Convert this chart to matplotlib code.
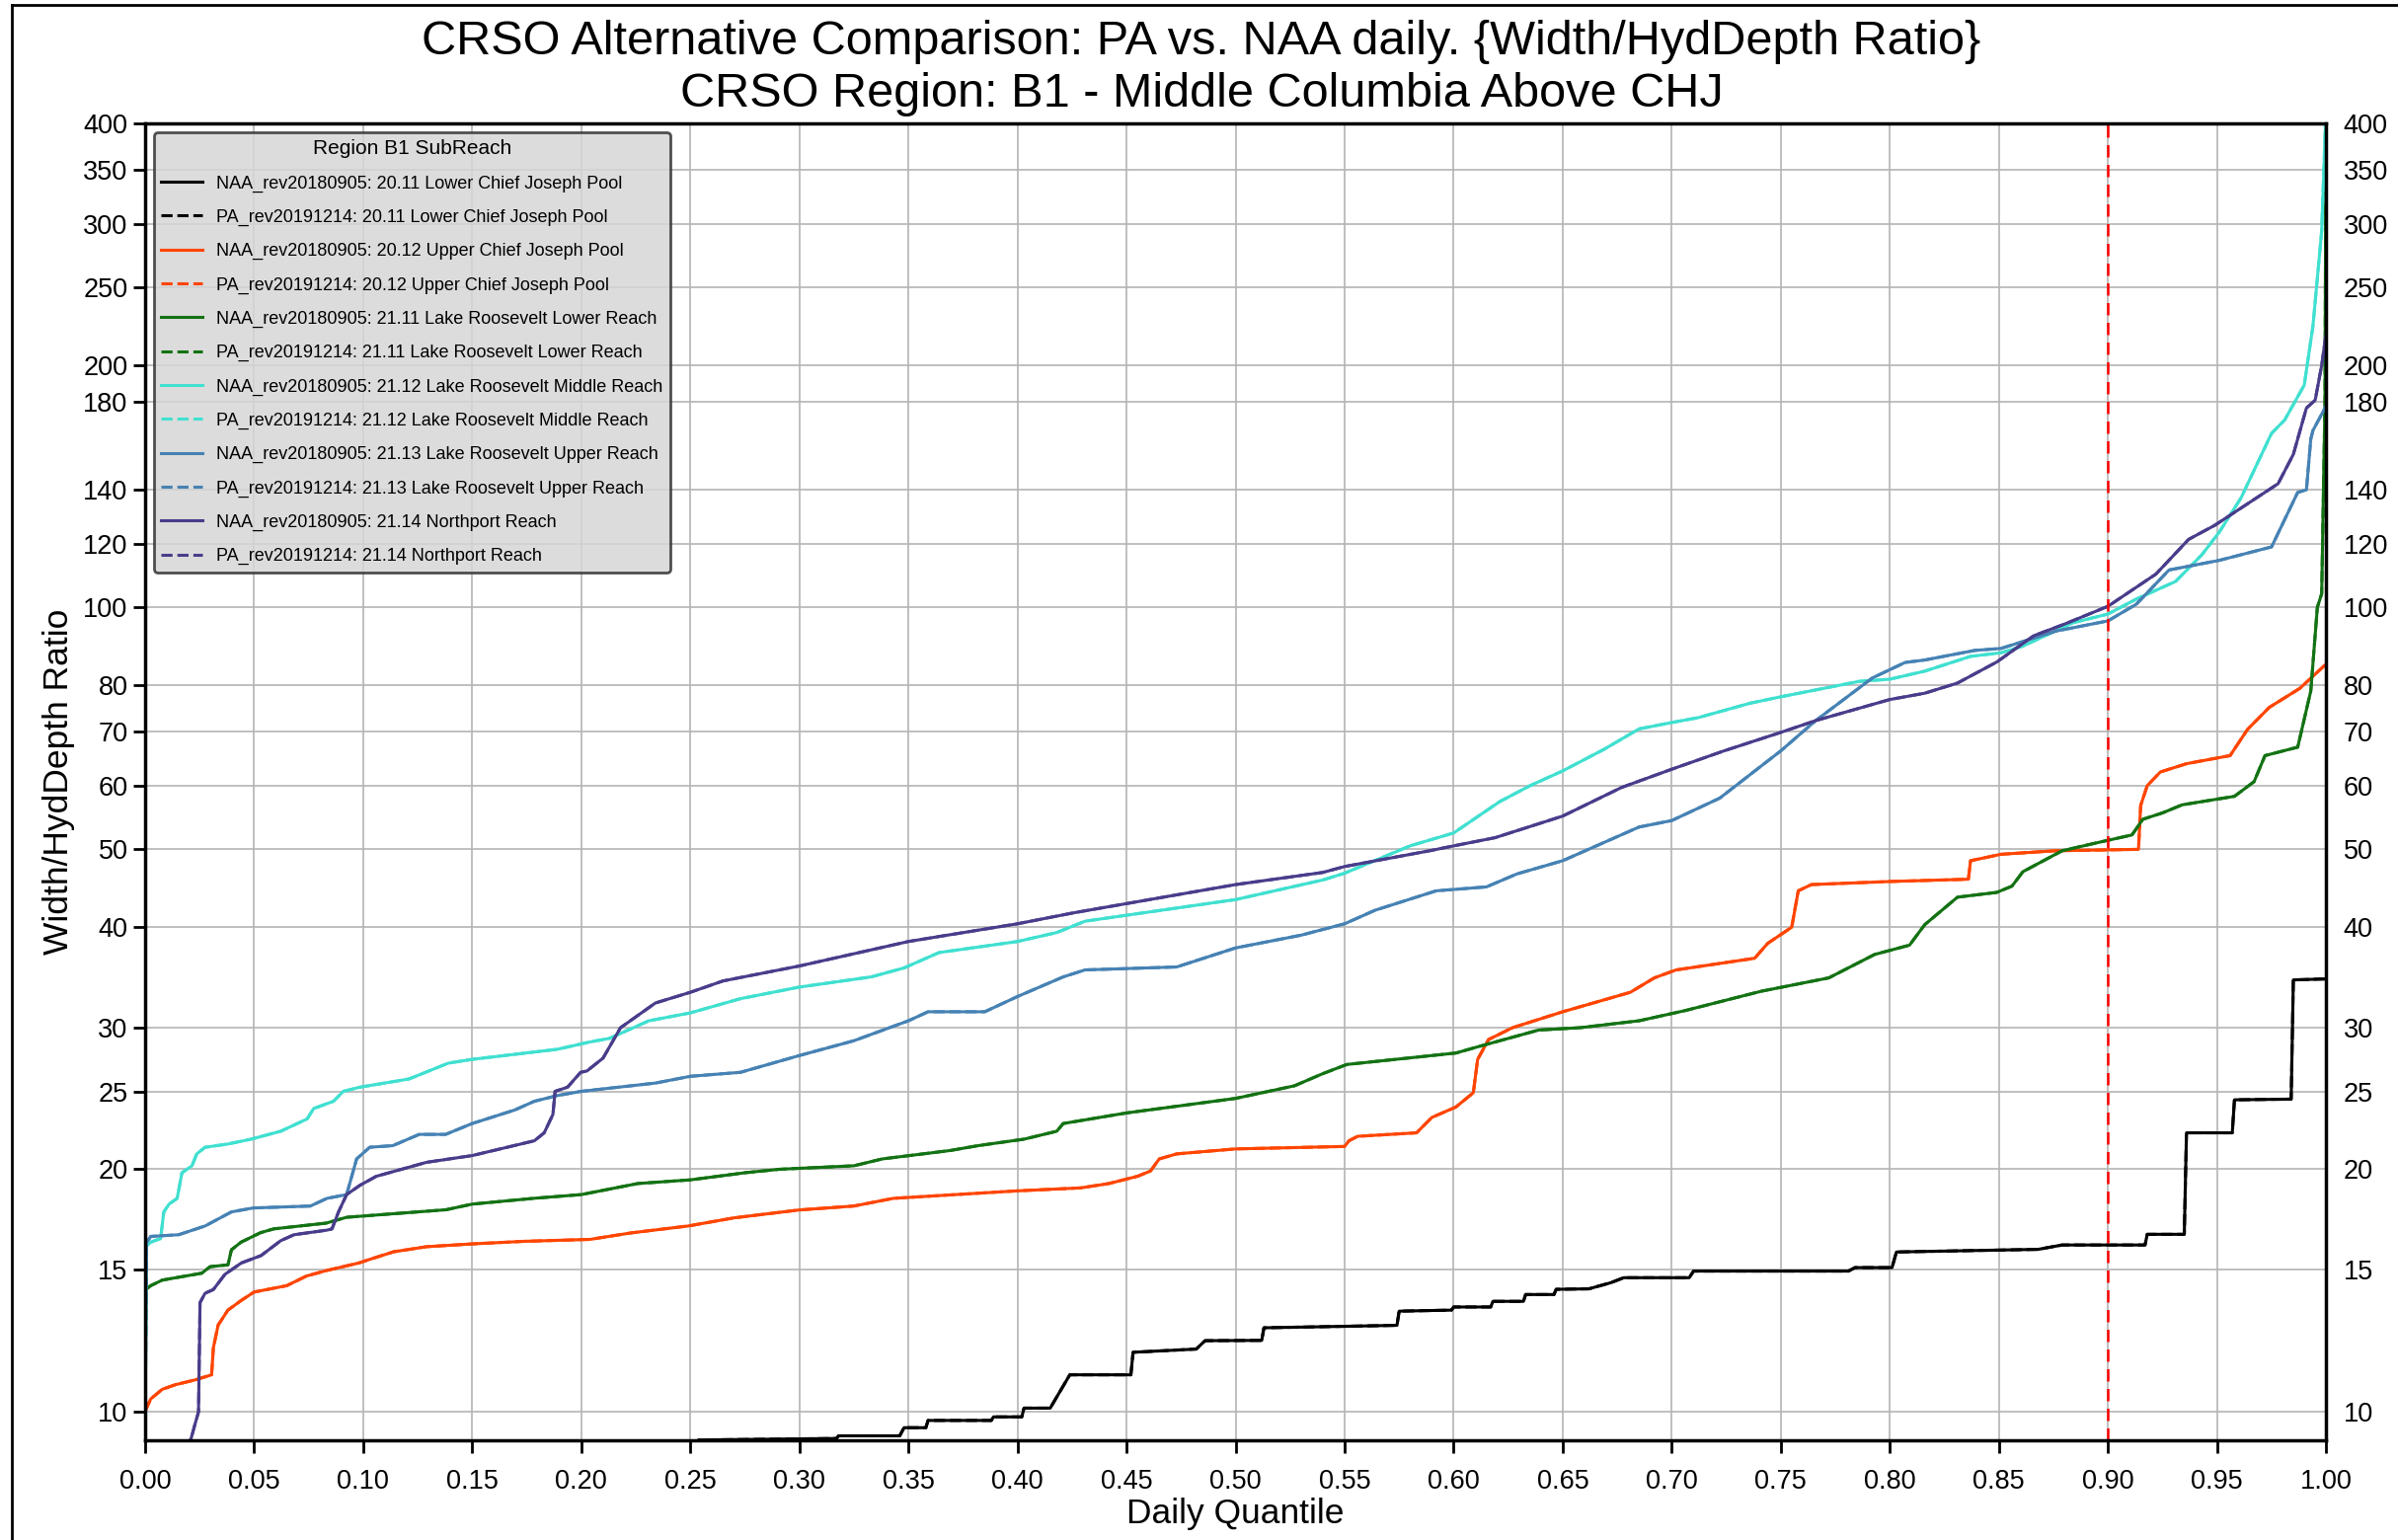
import matplotlib
matplotlib.use('Agg')
import matplotlib.pyplot as plt
from matplotlib.lines import Line2D

plt.rcParams['font.family'] = ['Liberation Sans', 'DejaVu Sans']

# ---- data (quantile, width/hyddepth ratio) ----
q_2011 = [0.0, 0.15, 0.25, 0.254, 0.317, 0.318, 0.346, 0.348, 0.358, 0.359, 0.388, 0.389, 0.402, 0.403,
          0.415, 0.424, 0.452, 0.453, 0.482, 0.486, 0.512, 0.513, 0.574, 0.575, 0.599, 0.600, 0.617, 0.618,
          0.632, 0.633, 0.646, 0.647, 0.662, 0.672, 0.678, 0.708, 0.710, 0.781, 0.784, 0.801, 0.803, 0.868,
          0.879, 0.917, 0.918, 0.935, 0.936, 0.957, 0.958, 0.984, 0.985, 1.0]
v_2011 = [6.0, 8.0, 9.1, 9.21, 9.25, 9.32, 9.32, 9.54, 9.54, 9.74, 9.74, 9.84, 9.84, 10.09,
          10.09, 11.1, 11.1, 11.84, 11.95, 12.24, 12.25, 12.7, 12.79, 13.32, 13.36, 13.48, 13.48, 13.7,
          13.7, 13.97, 13.97, 14.18, 14.2, 14.45, 14.66, 14.66, 14.94, 14.94, 15.09, 15.09, 15.78, 15.9,
          16.1, 16.1, 16.6, 16.6, 22.2, 22.2, 24.4, 24.45, 34.4, 34.5]

q_2012 = [0.0, 0.0026, 0.0079, 0.0139, 0.023, 0.0305, 0.0313, 0.0335, 0.038, 0.044, 0.050, 0.065, 0.074,
          0.083, 0.098, 0.103, 0.114, 0.129, 0.150, 0.174, 0.204, 0.223, 0.249, 0.270, 0.30, 0.325, 0.343,
          0.40, 0.429, 0.442, 0.455, 0.461, 0.465, 0.473, 0.50, 0.55, 0.552, 0.556, 0.583, 0.590, 0.601,
          0.609, 0.611, 0.616, 0.627, 0.650, 0.681, 0.692, 0.702, 0.738, 0.744, 0.755, 0.758, 0.764, 0.80,
          0.836, 0.837, 0.851, 0.876, 0.914, 0.915, 0.918, 0.924, 0.936, 0.956, 0.964, 0.974, 0.988, 1.0]
v_2012 = [10.0, 10.36, 10.65, 10.79, 10.94, 11.1, 11.99, 12.8, 13.36, 13.73, 14.07, 14.33, 14.73,
          14.96, 15.29, 15.45, 15.79, 16.02, 16.15, 16.27, 16.36, 16.67, 17.0, 17.4, 17.8, 18.0, 18.4,
          18.8, 18.96, 19.2, 19.6, 19.9, 20.6, 20.9, 21.2, 21.35, 21.7, 21.98, 22.2, 23.2, 23.9,
          24.9, 27.4, 29.0, 30.0, 31.4, 33.2, 34.6, 35.4, 36.6, 38.2, 40.0, 44.4, 45.2, 45.6,
          45.9, 48.4, 49.3, 49.8, 50.0, 56.7, 60.0, 62.4, 63.9, 65.4, 70.5, 75.1, 79.3, 85.0]

q_2111 = [0.0, 0.0003, 0.0026, 0.0079, 0.026, 0.0298, 0.038, 0.0396, 0.044, 0.053, 0.059, 0.083, 0.0924,
          0.138, 0.150, 0.178, 0.20, 0.226, 0.25, 0.275, 0.291, 0.325, 0.338, 0.369, 0.382, 0.403, 0.418,
          0.421, 0.45, 0.50, 0.527, 0.540, 0.551, 0.601, 0.611, 0.639, 0.658, 0.685, 0.706, 0.741, 0.772,
          0.793, 0.809, 0.816, 0.831, 0.849, 0.856, 0.861, 0.879, 0.897, 0.911, 0.916, 0.925, 0.934, 0.958,
          0.967, 0.972, 0.987, 0.993, 0.996, 0.998, 0.9995, 1.0]
v_2111 = [9.0, 14.17, 14.33, 14.56, 14.85, 15.13, 15.21, 15.88, 16.23, 16.68, 16.86, 17.14, 17.43,
          17.81, 18.1, 18.4, 18.6, 19.2, 19.4, 19.8, 20.0, 20.2, 20.6, 21.1, 21.4, 21.8, 22.3,
          22.8, 23.5, 24.5, 25.4, 26.3, 27.0, 27.9, 28.4, 29.8, 30.0, 30.6, 31.5, 33.3, 34.6,
          37.0, 38.0, 40.3, 43.6, 44.2, 45.0, 46.9, 49.8, 51.1, 52.1, 54.5, 55.5, 56.8, 58.2,
          60.7, 65.4, 67.0, 78.7, 100.0, 104.0, 180.0, 450.0]

q_2112 = [0.0, 0.0006, 0.0026, 0.0071, 0.0086, 0.011, 0.0147, 0.0169, 0.0215, 0.0237, 0.0275, 0.038,
          0.0486, 0.0622, 0.0743, 0.0773, 0.0864, 0.0909, 0.0985, 0.121, 0.139, 0.150, 0.189, 0.204,
          0.213, 0.231, 0.25, 0.273, 0.30, 0.333, 0.348, 0.364, 0.40, 0.418, 0.431, 0.45, 0.50, 0.540,
          0.55, 0.580, 0.60, 0.621, 0.635, 0.650, 0.669, 0.685, 0.70, 0.712, 0.736, 0.75, 0.786, 0.80,
          0.816, 0.837, 0.851, 0.861, 0.884, 0.900, 0.913, 0.931, 0.943, 0.951, 0.961, 0.975, 0.981,
          0.990, 0.994, 0.998, 1.0]
v_2112 = [9.0, 16.05, 16.23, 16.4, 17.7, 18.1, 18.4, 19.8, 20.2, 20.9, 21.3, 21.5,
          21.8, 22.3, 23.1, 23.8, 24.3, 25.0, 25.3, 25.9, 27.1, 27.4, 28.2, 28.8,
          29.1, 30.6, 31.3, 32.6, 33.7, 34.7, 35.6, 37.2, 38.4, 39.4, 40.7, 41.4, 43.3, 45.8,
          46.7, 50.5, 52.4, 57.3, 60.0, 62.6, 66.6, 70.6, 71.9, 72.9, 76.0, 77.4, 80.9, 81.4,
          83.3, 86.9, 87.8, 89.5, 95.7, 98.1, 102.4, 107.7, 116.2, 124.0, 136.8, 164.6, 171.0,
          189.0, 224.0, 294.0, 420.0]

q_2113 = [0.0, 0.0006, 0.0026, 0.0154, 0.0275, 0.0396, 0.0495, 0.0758, 0.0834, 0.0924, 0.097, 0.103,
          0.1136, 0.1257, 0.1378, 0.150, 0.1695, 0.1785, 0.189, 0.20, 0.234, 0.25, 0.273, 0.30, 0.325,
          0.35, 0.359, 0.385, 0.40, 0.421, 0.431, 0.473, 0.50, 0.530, 0.55, 0.564, 0.592, 0.615, 0.629,
          0.650, 0.685, 0.70, 0.722, 0.75, 0.766, 0.792, 0.807, 0.816, 0.839, 0.851, 0.876, 0.900, 0.913,
          0.928, 0.951, 0.975, 0.987, 0.991, 0.993, 0.994, 1.0]
v_2113 = [9.0, 16.2, 16.5, 16.58, 17.0, 17.7, 17.9, 18.0, 18.4, 18.6, 20.6, 21.3,
          21.4, 22.1, 22.1, 22.8, 23.7, 24.3, 24.7, 25.0, 25.6, 26.1, 26.4, 27.7, 28.9,
          30.6, 31.4, 31.4, 32.8, 34.7, 35.4, 35.7, 37.7, 39.1, 40.4, 42.0, 44.4, 44.9, 46.6,
          48.4, 53.3, 54.3, 57.9, 66.3, 72.3, 81.7, 85.4, 86.0, 88.4, 88.9, 93.4, 96.2, 100.9,
          111.3, 114.4, 118.9, 139.0, 140.0, 162.0, 166.0, 178.0]

q_2114 = [0.0, 0.0211, 0.023, 0.0245, 0.0252, 0.0275, 0.0313, 0.0366, 0.0441, 0.0532, 0.0622, 0.0683,
          0.0834, 0.0857, 0.0887, 0.0924, 0.0985, 0.106, 0.129, 0.150, 0.166, 0.1785, 0.183, 0.187, 0.188,
          0.1937, 0.1997, 0.2026, 0.210, 0.218, 0.234, 0.25, 0.265, 0.30, 0.35, 0.40, 0.426, 0.50, 0.540,
          0.55, 0.589, 0.60, 0.619, 0.650, 0.677, 0.70, 0.724, 0.75, 0.766, 0.80, 0.816, 0.831, 0.849,
          0.866, 0.880, 0.900, 0.922, 0.937, 0.949, 0.978, 0.985, 0.991, 0.995, 0.998, 1.0]
v_2114 = [7.0, 9.25, 9.66, 9.98, 13.65, 14.02, 14.17, 14.8, 15.29, 15.62, 16.3, 16.58,
          16.8, 16.86, 17.7, 18.6, 19.1, 19.6, 20.4, 20.8, 21.3, 21.7, 22.2, 23.4, 25.0,
          25.3, 26.4, 26.5, 27.5, 30.0, 32.2, 33.2, 34.3, 35.8, 38.4, 40.4, 41.7, 45.2, 46.8,
          47.6, 49.8, 50.5, 51.7, 55.0, 59.7, 62.9, 66.3, 69.9, 72.3, 76.8, 78.2, 80.5, 85.5,
          92.2, 95.3, 100.3, 110.0, 121.5, 126.5, 142.5, 155.0, 177.0, 181.0, 200.0, 219.0]

reach_names = ['20.11 Lower Chief Joseph Pool', '20.12 Upper Chief Joseph Pool',
               '21.11 Lake Roosevelt Lower Reach', '21.12 Lake Roosevelt Middle Reach',
               '21.13 Lake Roosevelt Upper Reach', '21.14 Northport Reach']
reach_colors = ['black', 'orangered', '#137213', 'turquoise', 'steelblue', 'darkslateblue']
reach_q = [q_2011, q_2012, q_2111, q_2112, q_2113, q_2114]
reach_v = [v_2011, v_2012, v_2111, v_2112, v_2113, v_2114]

y_ticks = [10, 15, 20, 25, 30, 40, 50, 60, 70, 80, 100, 120, 140, 180, 200, 250, 300, 350, 400]
x_ticks = [i * 0.05 for i in range(21)]

fig = plt.figure(figsize=(24.29, 15.6), dpi=100)
ax = fig.add_axes([0.0605, 0.0647, 0.9095, 0.8552])

for name, col, qq, vv in zip(reach_names, reach_colors, reach_q, reach_v):
    ax.plot(qq, vv, color=col, lw=2.2, label='NAA_rev20180905: ' + name)
    ax.plot(qq, vv, color=col, lw=2.2, ls='--', label='PA_rev20191214: ' + name)

ax.axvline(0.9, color='red', ls='--', lw=1.8, dashes=(5, 3))

ax.set_yscale('log')
ax.set_xlim(0, 1)
ax.set_ylim(9.2, 400)
ax.set_yticks(y_ticks)
ax.set_yticklabels([str(t) for t in y_ticks])
ax.yaxis.set_minor_locator(matplotlib.ticker.NullLocator())
ax.set_xticks(x_ticks)
ax.set_xticklabels(['%.2f' % t for t in x_ticks])
ax.tick_params(axis='both', labelsize=19.5, length=9, width=2, direction='out')
ax.tick_params(axis='x', pad=12)
ax.tick_params(axis='y', labelright=True, right=False)
ax.grid(True, color='#b4b4b4', lw=1.2)
for s in ax.spines.values():
    s.set_linewidth(2.5)
    s.set_color('black')

ax.set_xlabel('Daily Quantile', fontsize=25.5, labelpad=2)
ax.set_ylabel('Width/HydDepth Ratio', fontsize=25.5, labelpad=6)

leg = ax.legend(loc='upper left', fontsize=13, title='Region B1 SubReach', title_fontsize=15,
                frameon=True, facecolor='#d6d6d6', edgecolor='#333333', framealpha=0.85,
                labelspacing=0.95, handlelength=2.3, borderaxespad=0.5)
leg.get_frame().set_linewidth(2)

fig.text(0.501, 0.973, 'CRSO Alternative Comparison: PA vs. NAA daily. {Width/HydDepth Ratio}',
         ha='center', va='center', fontsize=35)
fig.text(0.501, 0.939, 'CRSO Region: B1 - Middle Columbia Above CHJ',
         ha='center', va='center', fontsize=35)

# thin frame round the page (left and top edges visible in reference)
fig.add_artist(Line2D([0.005, 0.005], [0.0, 0.9968], color='black', lw=2, transform=fig.transFigure))
fig.add_artist(Line2D([0.005, 1.0], [0.9968, 0.9968], color='black', lw=2, transform=fig.transFigure))

fig.savefig('out.png', dpi=100)
